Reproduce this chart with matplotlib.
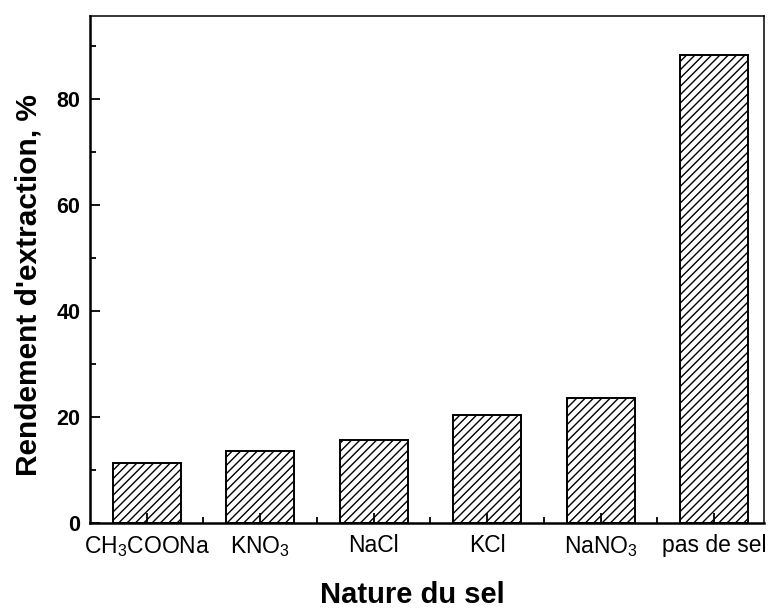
import matplotlib
matplotlib.use("Agg")
import matplotlib.pyplot as plt
from matplotlib.ticker import MultipleLocator, FixedLocator

plt.rcParams['font.family'] = ['Liberation Sans', 'DejaVu Sans']
plt.rcParams['mathtext.fontset'] = 'custom'
plt.rcParams['mathtext.rm'] = 'Liberation Sans'
plt.rcParams['mathtext.it'] = 'Liberation Sans:italic'
plt.rcParams['mathtext.bf'] = 'Liberation Sans:bold'
plt.rcParams['hatch.linewidth'] = 1.0

# Salt types and extraction yields (%)
salts = ["CH$_3$COONa", "KNO$_3$", "NaCl", "KCl", "NaNO$_3$", "pas de sel"]
rendement = [11.3, 13.5, 15.7, 20.3, 23.6, 88.4]
positions = [1, 2, 3, 4, 5, 6]

fig = plt.figure(figsize=(7.73, 6.08), dpi=100)
ax = fig.add_axes([0.1164, 0.1398, 0.872, 0.8339])

ax.bar(positions, rendement, width=0.6, color='white', edgecolor='black',
       linewidth=1.4, hatch='////')

ax.set_xlim(0.5, 6.44)
ax.set_ylim(0, 95.7)

ax.yaxis.set_major_locator(MultipleLocator(20))
ax.yaxis.set_minor_locator(MultipleLocator(10))
ax.xaxis.set_major_locator(FixedLocator(positions))
ax.xaxis.set_minor_locator(FixedLocator([1.5, 2.5, 3.5, 4.5, 5.5]))
ax.set_xticks(positions)
ax.set_xticklabels(salts, fontsize=16.5)

ax.tick_params(axis='both', which='both', direction='in')
ax.tick_params(axis='y', which='major', length=7, width=1.3, labelsize=15.5, pad=7)
ax.tick_params(axis='y', which='minor', length=4, width=1.3)
ax.tick_params(axis='x', which='major', length=7, width=1.3, pad=8)
ax.tick_params(axis='x', which='minor', length=4, width=1.3)
for lab in ax.get_yticklabels():
    lab.set_fontweight('bold')

for side in ['left', 'bottom']:
    ax.spines[side].set_linewidth(1.8)
for side in ['top', 'right']:
    ax.spines[side].set_linewidth(1.1)

ax.set_ylabel("Rendement d'extraction, %", fontsize=21.5, fontweight='bold')
ax.yaxis.label.set_va('baseline')
ax.yaxis.set_label_coords(-0.0786, 0.469)

ax.set_xlabel("Nature du sel", fontsize=21, fontweight='bold')
ax.xaxis.label.set_va('baseline')
ax.xaxis.set_label_coords(0.478, -0.158)

fig.savefig("out.png", dpi=100)
